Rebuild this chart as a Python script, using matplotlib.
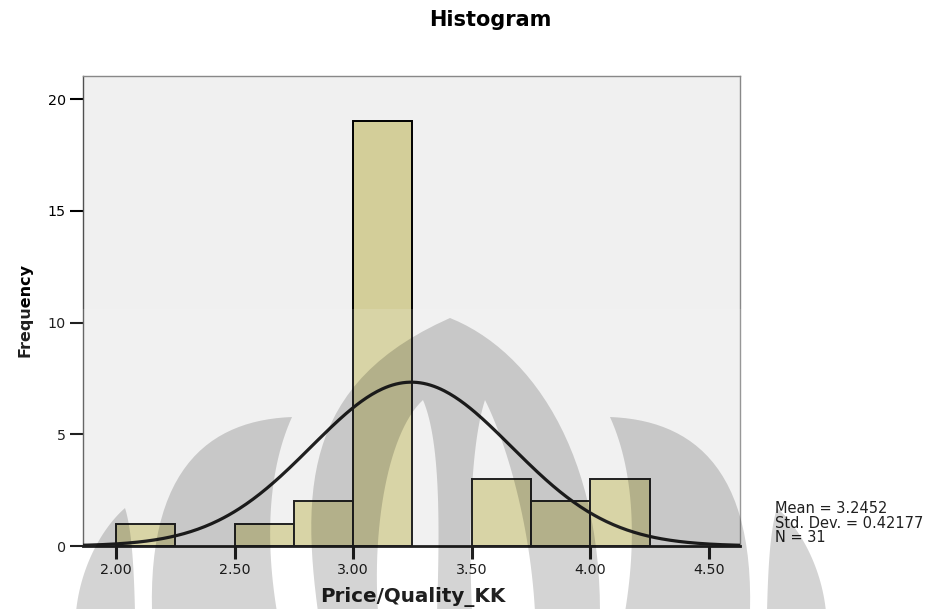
import numpy as np
import matplotlib
matplotlib.use("Agg")
import matplotlib.pyplot as plt
from matplotlib.patches import Polygon, Rectangle

# histogram data (bin width 0.25)
bin_lefts = [2.00, 2.25, 2.50, 2.75, 3.00, 3.25, 3.50, 3.75, 4.00]
counts = [1, 0, 1, 2, 19, 0, 3, 2, 3]
bin_width = 0.25
mean = 3.2452
std_dev = 0.42177
n_obs = 31
x_ticks = [2.00, 2.50, 3.00, 3.50, 4.00, 4.50]
y_ticks = [0, 5, 10, 15, 20]

W, H = 928, 609
fig = plt.figure(figsize=(W / 100, H / 100), dpi=100)
fig.patch.set_facecolor("white")

ax = fig.add_axes([83 / W, 1 - 546 / H, (740 - 83) / W, (546 - 76) / H])
ax.set_facecolor("#f0f0f0")

lefts = [l for l, c in zip(bin_lefts, counts) if c > 0]
heights = [c for c in counts if c > 0]
ax.bar(lefts, heights, width=bin_width, align="edge", color="#d3ce99",
       edgecolor="black", linewidth=1.4, zorder=2)

# normal curve scaled to counts
xs = np.linspace(1.80, 4.70, 400)
ys = n_obs * bin_width * np.exp(-0.5 * ((xs - mean) / std_dev) ** 2) / (std_dev * np.sqrt(2 * np.pi))
ax.plot(xs, ys, color="black", linewidth=2.3, zorder=3)

ax.set_xlim(1.861, 4.631)
ax.set_ylim(0, 21.03)
ax.set_xticks(x_ticks)
ax.set_xticklabels([f"{t:.2f}" for t in x_ticks])
ax.set_yticks(y_ticks)
ax.tick_params(axis="x", length=9, width=2.2, pad=3, labelsize=10.3, color="black")
ax.tick_params(axis="y", length=9.5, width=1.5, pad=3, labelsize=10.3, color="black")

ax.spines["bottom"].set_color("black")
ax.spines["bottom"].set_linewidth(2)
ax.spines["left"].set_color("#505050")
ax.spines["left"].set_linewidth(1)
for s in ("top", "right"):
    ax.spines[s].set_color("#888888")
    ax.spines[s].set_linewidth(1)

fig.text(490 / W, 1 - 20 / H, "Histogram", ha="center", va="center",
         fontsize=15, fontweight="bold")
fig.text(413 / W, 1 - 597 / H, "Price/Quality_KK", ha="center", va="center",
         fontsize=14.3, fontweight="bold")
fig.text(25 / W, 1 - 310 / H, "Frequency", ha="center", va="center",
         rotation=90, fontsize=11.5, fontweight="bold")
fig.text(775 / W, 1 - 523 / H,
         f"Mean = {mean:.4f}\nStd. Dev. = {std_dev:.5f}\nN = {n_obs}",
         ha="left", va="center", fontsize=10.5, linespacing=0.95)


# faded logo stamp over the lower part of the page
def px(pts):
    return [(x / W, 1 - y / H) for x, y in pts]


def bez(p0, p1, p2, p3, n=30):
    t = np.linspace(0, 1, n)[:, None]
    p0, p1, p2, p3 = map(np.array, (p0, p1, p2, p3))
    pts = (1 - t) ** 3 * p0 + 3 * (1 - t) ** 2 * t * p1 + 3 * (1 - t) * t ** 2 * p2 + t ** 3 * p3
    return [tuple(p) for p in pts]


def mirror(pts, cx=451):
    return [(2 * cx - x, y) for x, y in pts]


fig.add_artist(Rectangle((0, 0), 1, 1 - 309 / H, transform=fig.transFigure,
                         facecolor="white", alpha=0.13, edgecolor="none", zorder=10))

small_petal = (bez((125, 508), (100, 530), (80, 570), (76, 612))
               + bez((135, 612), (134, 570), (132, 530), (125, 508)))
side_petal = (bez((292, 417), (215, 420), (148, 462), (152, 612))
              + bez((277, 612), (265, 540), (268, 470), (292, 417)))
# centre flame with two open slits at its base
flame = (bez((318, 612), (300, 480), (310, 380), (450, 318))
         + bez((450, 318), (530, 350), (600, 450), (600, 612))
         + bez((535, 612), (530, 520), (505, 440), (485, 400))
         + bez((485, 400), (472, 440), (468, 520), (472, 612))
         + bez((437, 612), (440, 520), (440, 440), (423, 400))
         + bez((423, 400), (390, 430), (372, 520), (378, 612)))

shapes = [small_petal, side_petal, mirror(small_petal), mirror(side_petal), flame]
for shp in shapes:
    fig.add_artist(Polygon(px(shp), closed=True, transform=fig.transFigure,
                           facecolor="black", alpha=0.17, edgecolor="none", zorder=11))

fig.savefig("out.png", dpi=100)
